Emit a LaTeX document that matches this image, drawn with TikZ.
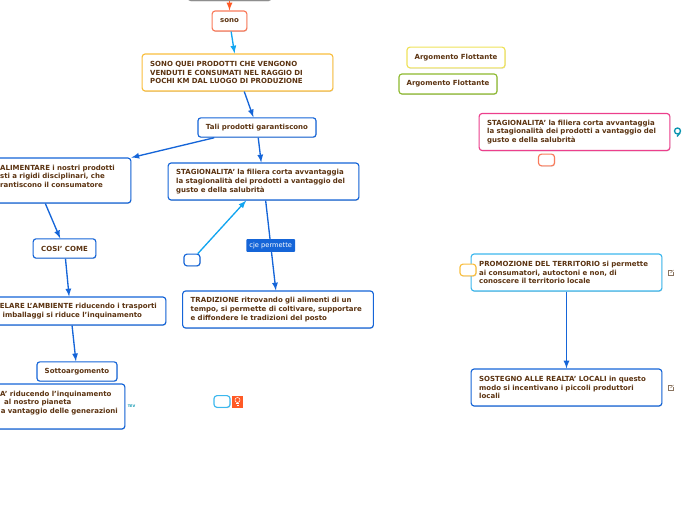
\documentclass[tikz,border=0pt]{standalone}
\usepackage{fontspec}
\setmainfont{DejaVu Sans}
\usetikzlibrary{shadows}
\definecolor{testo}{HTML}{5B3311}
\definecolor{blu}{HTML}{1565D8}
\definecolor{azzurro}{HTML}{12A5F0}
\definecolor{ciano}{HTML}{3DB8EE}
\definecolor{arancio}{HTML}{F9BE3E}
\definecolor{salmone}{HTML}{F97B5C}
\definecolor{rosso}{HTML}{FF5A26}
\definecolor{giallo}{HTML}{EFE25A}
\definecolor{verde}{HTML}{8DB92E}
\definecolor{rosa}{HTML}{EC3F8C}
\definecolor{grigio}{HTML}{8E8E8E}
\definecolor{ottanio}{HTML}{0B95B0}
\definecolor{linkicon}{HTML}{8A7460}
\begin{document}
\begin{tikzpicture}[x=0.75pt, y=-0.75pt, >=latex, line width=1pt,
    topicbase/.style={draw=blu, fill=white, rounded corners=2.2pt, line width=0.85pt, text=testo,
        font=\fontsize{5.25}{6.5}\selectfont\bfseries,
        drop shadow={opacity=0.3, shadow xshift=0.4pt, shadow yshift=-0.6pt}},
    widebox/.style={topicbase, text width=131pt, inner xsep=6pt, inner ysep=0pt, align=left, minimum height=27.75pt},
    shortbox/.style={topicbase, inner sep=0pt, align=center, minimum height=14.5pt},
    emptybox/.style={topicbase, inner sep=0pt, minimum width=12pt, minimum height=8.75pt},
    linklabel/.style={fill=blu, text=white, rounded corners=0.6pt, inner sep=0pt, minimum width=36.5pt, minimum height=9.5pt, font=\fontsize{5}{6}\selectfont}]
    \useasboundingbox (0,0) rectangle (696,520);
    \clip (0,0) rectangle (696,520);

    \node (radice) [shortbox, draw=grigio, minimum width=62pt] at (229.5,-9) {};
    \node (sono) [shortbox, draw=salmone, minimum width=26pt, minimum height=15pt] at (229.5,21) {sono};
    \node (prodotti) [widebox, draw=arancio] at (237.5,72.5) {SONO QUEI PRODOTTI CHE VENGONO\\VENDUTI E CONSUMATI NEL RAGGIO DI\\POCHI KM DAL LUOGO DI PRODUZIONE};
    \node (tali) [shortbox, minimum width=88.5pt] at (257,127.5) {Tali prodotti garantiscono};
    \node (alimentare) [widebox, minimum height=33.75pt] at (35.5,180.5) {\hspace*{39pt}ALIMENTARE i nostri prodotti\\\hspace*{39pt}sti a rigidi disciplinari, che\\\hspace*{39pt}rantiscono il consumatore\\\mbox{}};
    \node (stagione) [widebox] at (263.5,181.5) {STAGIONALITA' la filiera corta avvantaggia\\la stagionalità dei prodotti a vantaggio del\\gusto e della salubrità};
    \node (cosi) [shortbox, minimum width=47pt] at (64.5,248.5) {COSI' COME};
    \node (vuoto1) [emptybox] at (192,260) {};
    \node (tradizione) [widebox] at (278,309.5) {TRADIZIONE ritrovando gli alimenti di un\\tempo, si permette di coltivare, supportare\\e diffondere le tradizioni del posto};
    \node (ambiente) [widebox, minimum height=21pt] at (70.5,311) {\hspace*{12.6pt}ELARE L'AMBIENTE riducendo i trasporti\\\hspace*{14.6pt}imballaggi si riduce l'inquinamento};
    \node (sotto) [shortbox, minimum width=60pt] at (77,371.5) {Sottoargomento};
    \node (sosten) [widebox, minimum height=33.75pt] at (29.5,406.5) {\hspace*{43.5pt}A' riducendo l'inquinamento\\\hspace*{46.5pt}al nostro pianeta\\\hspace*{44pt}\mbox{a vantaggio delle generazioni}\\\mbox{}};
    \node (tev) [text=ottanio, inner sep=0pt, font=\fontsize{2.6}{3}\selectfont\bfseries] at (131.5,406) {TEV};
    \node (vuoto2) [emptybox, draw=ciano] at (222,401.5) {};
    \node (bulb) [fill=rosso, inner sep=0pt, minimum width=8.5pt, minimum height=9pt] at (237.5,401.5) {};
    \draw[white, line width=0.4pt] (bulb.center) ++(0,-1.5) circle (2.5);
    \draw[white, line width=0.4pt] (bulb.center) ++(-1.5,2) -- ++(3,0) (bulb.center) ++(-1,4) -- ++(2,0);

    \node (flott1) [shortbox, draw=giallo, minimum width=73.5pt, minimum height=15.5pt] at (456,57.5) {Argomento Flottante};
    \node (flott2) [shortbox, draw=verde, minimum width=73.5pt, minimum height=15pt] at (448,84) {Argomento Flottante};
    \node (rosa) [widebox, draw=rosa] at (574.5,132) {STAGIONALITA' la filiera corta avvantaggia\\la stagionalità dei prodotti a vantaggio del\\gusto e della salubrità};
    \node (vuoto3) [emptybox, draw=salmone] at (546.5,160) {};
    \draw[ottanio, line width=1pt, fill=white] (677.5,131) circle (3);
    \draw[ottanio, line width=1pt] (680,133) -- (677,136.5);

    \node (territorio) [widebox, draw=ciano] at (566.5,272.5) {PROMOZIONE DEL TERRITORIO si permette\\ai consumatori, autoctoni e non, di\\conoscere il territorio locale};
    \node (vuoto4) [emptybox, draw=arancio] at (468,270) {};
    \node (realta) [widebox] at (566.5,387.5) {SOSTEGNO ALLE REALTA' LOCALI in questo\\modo si incentivano i piccoli produttori\\locali};
    \draw[linkicon, line width=0.4pt] (672,270.5) -- (668,270.5) -- (668,275.5) -- (673,275.5) -- (673,272);
    \draw[linkicon, line width=0.4pt] (670.5,273) -- (673.5,270);
    \draw[linkicon, line width=0.4pt] (672,385.5) -- (668,385.5) -- (668,390.5) -- (673,390.5) -- (673,387);
    \draw[linkicon, line width=0.4pt] (670.5,388) -- (673.5,385);

    \draw[->, rosso] (radice) -- (sono);
    \draw[->, azzurro] (sono) -- (prodotti);
    \draw[->, blu] (prodotti) -- (tali);
    \draw[->, blu] (tali) -- (stagione);
    \draw[->, blu] (tali) -- (alimentare);
    \draw[->, blu] (alimentare) -- (cosi);
    \draw[->, blu] (cosi) -- (ambiente);
    \draw[->, blu] (ambiente) -- (sotto);
    \draw[->, azzurro] (vuoto1) -- (stagione);
    \draw[->, blu] (stagione) -- (tradizione) node[midway, linklabel] {cje permette};
    \draw[->, blu] (territorio) -- (realta);
\end{tikzpicture}
\end{document}
